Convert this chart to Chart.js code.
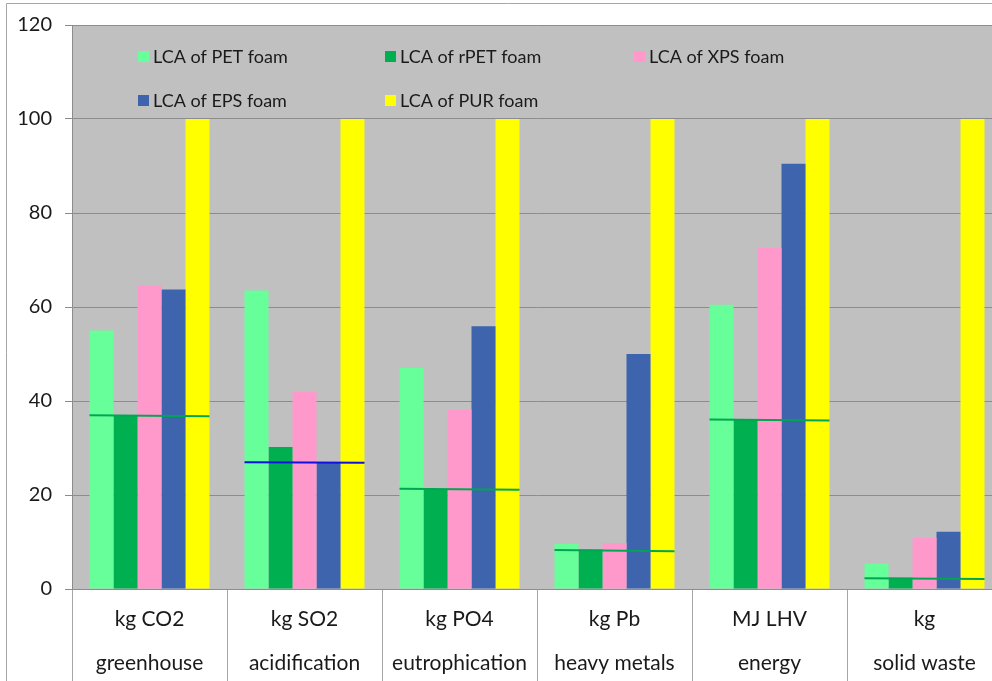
<!DOCTYPE html>
<html>
<head>
<meta charset="utf-8">
<script src="https://cdn.jsdelivr.net/npm/chart.js@4/dist/chart.umd.min.js"></script>
<style>
  html, body { margin: 0; padding: 0; overflow: hidden; background: #ffffff; }
  #wrap { position: absolute; left: 0; top: 0; width: 1010px; height: 700px; }
  #wrap canvas { position: absolute; left: 0; top: 0; }
</style>
</head>
<body>
<div id="wrap">
  <canvas id="c" width="1010" height="700"></canvas>
  <canvas id="c2" width="1010" height="700"></canvas>
</div>
<script>
// ---- data ----
const categories = [
  ['kg CO2', 'greenhouse'],
  ['kg SO2', 'acidification'],
  ['kg PO4', 'eutrophication'],
  ['kg Pb', 'heavy metals'],
  ['MJ LHV', 'energy'],
  ['kg', 'solid waste']
];
const seriesNames = ['LCA of PET foam', 'LCA of rPET foam', 'LCA of XPS foam', 'LCA of EPS foam', 'LCA of PUR foam'];
const petValues  = [55.0, 63.5, 47.0, 9.6, 60.5, 5.4];
const rpetValues = [37.0, 30.2, 21.3, 8.4, 36.1, 2.4];
const xpsValues  = [64.6, 41.9, 38.2, 9.8, 72.6, 10.9];
const epsValues  = [63.7, 26.9, 55.9, 50.0, 90.5, 12.2];
const purValues  = [100, 100, 100, 100, 100, 100];
const lineStart  = [36.9, 26.9, 21.3, 8.3, 36.0, 2.3];
const lineEnd    = [36.7, 26.8, 21.1, 8.0, 35.8, 2.1];
const lineColors = ['#00A651', '#1010E0', '#00A651', '#00A651', '#00A651', '#00A651'];
const yTicks = [0, 20, 40, 60, 80, 100, 120];

const barColors = ['#66FF99', '#00B050', '#FF99CC', '#3D64AD', '#FFFF00'];
const seriesValues = [petValues, rpetValues, xpsValues, epsValues, purValues];
const GROUP = 0.774;

const FONT = 'Lato, "Open Sans", sans-serif';

const barDatasets = seriesValues.map((vals, i) => ({
  label: seriesNames[i],
  data: vals,
  backgroundColor: barColors[i],
  borderWidth: 0,
  categoryPercentage: GROUP,
  barPercentage: 1.0
}));

const lineDatasets = categories.map((c, i) => ({
  label: 'line' + i,
  data: [{x: i - GROUP / 2, y: lineStart[i]}, {x: i + GROUP / 2, y: lineEnd[i]}],
  borderColor: lineColors[i],
  borderWidth: 2,
  pointRadius: 0,
  fill: false
}));

const bgPlugin = {
  id: 'bg',
  beforeDraw(chart) {
    const ctx = chart.ctx, a = chart.chartArea;
    ctx.save();
    ctx.fillStyle = '#C0C0C0';
    ctx.fillRect(a.left, a.top, a.right - a.left, a.bottom - a.top);
    ctx.strokeStyle = '#A6A6A6';
    ctx.lineWidth = 1;
    ctx.beginPath();
    ctx.moveTo(6.5, 1000);
    ctx.lineTo(6.5, 3.5);
    ctx.lineTo(2000, 3.5);
    ctx.stroke();
    ctx.restore();
  }
};

const legendPlugin = {
  id: 'customLegend',
  afterDatasetsDraw(chart) {
    const ctx = chart.ctx;
    const pos = [[138, 57], [385, 57], [634, 57], [138, 101], [385, 101]];
    ctx.save();
    ctx.font = '18px ' + FONT;
    ctx.textBaseline = 'middle';
    ctx.textAlign = 'left';
    seriesNames.forEach((n, i) => {
      const [x, y] = pos[i];
      ctx.fillStyle = barColors[i];
      ctx.fillRect(x, y - 6, 11, 11);
      ctx.fillStyle = '#1a1a1a';
      ctx.fillText(n, x + 15, y);
    });
    ctx.restore();
  }
};

// main bar chart
new Chart(document.getElementById('c'), {
  type: 'bar',
  data: { labels: categories, datasets: barDatasets },
  options: {
    responsive: false,
    animation: false,
    layout: { padding: { left: 0, top: 24, right: 8, bottom: 0 } },
    plugins: { legend: { display: false }, tooltip: { enabled: false } },
    scales: {
      x: {
        type: 'category',
        offset: true,
        afterFit(s) { s.height = 111; },
        grid: {
          display: true,
          drawOnChartArea: false,
          drawTicks: true,
          tickLength: 111,
          color: '#A6A6A6',
          offset: true
        },
        border: { display: true, color: '#8C8C8C', width: 1 },
        ticks: {
          padding: -103,
          color: '#1a1a1a',
          font: { family: FONT, size: 21, lineHeight: 2.1 },
          maxRotation: 0,
          autoSkip: false
        }
      },
      y: {
        type: 'linear',
        min: 0,
        max: 120,
        afterFit(s) { s.width = 72; },
        afterBuildTicks(s) { s.ticks = yTicks.map(v => ({ value: v })); },
        grid: { color: '#8C8C8C', tickLength: 7, lineWidth: 1 },
        border: { display: true, color: '#8C8C8C' },
        ticks: {
          padding: 13,
          color: '#1a1a1a',
          font: { family: FONT, size: 20 }
        }
      }
    }
  },
  plugins: [bgPlugin, legendPlugin]
});

// overlay: reference lines, same plot area (left 72, top 24, right 1002, bottom 589)
new Chart(document.getElementById('c2'), {
  type: 'line',
  data: { datasets: lineDatasets },
  options: {
    responsive: false,
    animation: false,
    layout: { padding: { left: 72, top: 24, right: 8, bottom: 111 } },
    plugins: { legend: { display: false }, tooltip: { enabled: false } },
    scales: {
      x: { type: 'linear', display: false, offset: false, min: -0.5, max: 5.5 },
      y: { type: 'linear', display: false, min: 0, max: 120 }
    }
  }
});
</script>
</body>
</html>
